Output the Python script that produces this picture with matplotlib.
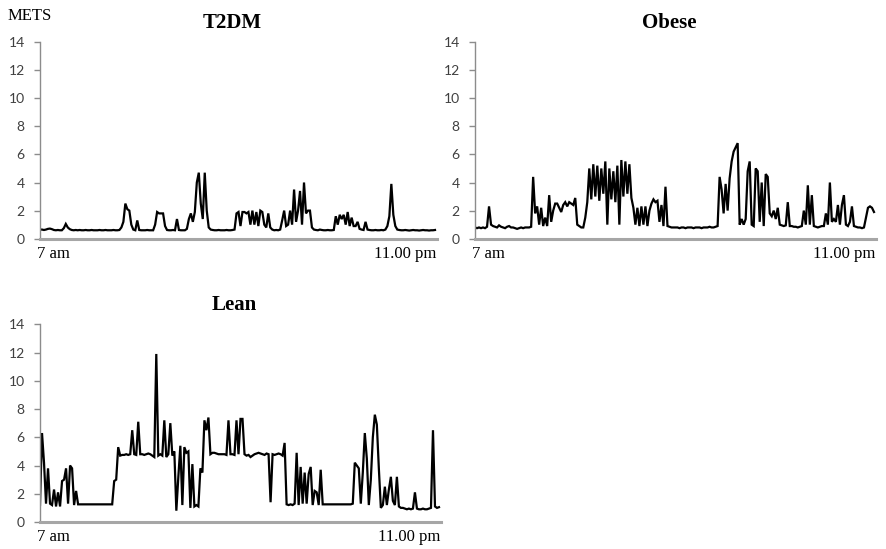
import matplotlib
matplotlib.use("Agg")
import matplotlib.pyplot as plt
import numpy as np

# METs sampled every ~5 min from 7 am to 11 pm (200 samples)
t2dm_mets = [
    0.65, 0.65, 0.62, 0.65, 0.7, 0.72, 0.68, 0.62, 0.6, 0.62, 0.6, 0.6, 0.75, 1.05, 0.8, 0.68, 0.62, 0.6, 0.62, 0.6,
    0.62, 0.6, 0.6, 0.62, 0.6, 0.6, 0.62, 0.6, 0.6, 0.6, 0.62, 0.6, 0.6, 0.62, 0.6, 0.6, 0.6, 0.62, 0.6, 0.6,
    0.62, 0.8, 1.2, 2.5, 2.1, 2.0, 1.0, 0.65, 0.6, 1.3, 0.62, 0.6, 0.6, 0.6, 0.62, 0.6, 0.6, 0.6, 1.0, 1.9,
    1.8, 1.8, 1.8, 0.9, 0.62, 0.6, 0.6, 0.62, 0.6, 1.4, 0.62, 0.6, 0.6, 0.6, 0.7, 1.4, 1.8, 1.2, 1.9, 4.0,
    4.7, 2.5, 1.4, 4.7, 2.0, 0.8, 0.65, 0.62, 0.6, 0.6, 0.62, 0.6, 0.6, 0.6, 0.62, 0.6, 0.6, 0.62, 0.65, 1.8,
    1.9, 0.9, 1.9, 1.9, 1.8, 1.9, 1.0, 2.0, 1.0, 1.9, 0.9, 2.0, 1.9, 1.0, 0.8, 1.8, 0.8, 0.65, 0.6, 0.62,
    0.6, 0.65, 1.3, 2.0, 0.9, 1.0, 2.0, 1.0, 3.5, 1.2, 2.0, 3.4, 1.0, 4.0, 1.8, 2.0, 2.0, 0.8, 0.65, 0.62,
    0.6, 0.65, 0.62, 0.6, 0.6, 0.62, 0.6, 0.6, 0.62, 1.6, 1.0, 1.7, 1.4, 1.7, 1.0, 1.9, 0.9, 1.5, 0.9, 0.9,
    1.2, 0.7, 0.65, 0.62, 1.2, 0.65, 0.62, 0.6, 0.6, 0.62, 0.6, 0.6, 0.62, 0.6, 0.65, 0.9, 1.6, 3.9, 1.7, 0.9,
    0.65, 0.62, 0.6, 0.6, 0.62, 0.6, 0.58, 0.6, 0.62, 0.6, 0.6, 0.58, 0.6, 0.62, 0.6, 0.6, 0.58, 0.6, 0.6, 0.62,
]

obese_mets = [
    0.8, 0.75, 0.8, 0.75, 0.8, 0.75, 0.85, 2.3, 1.0, 0.9, 0.85, 0.8, 0.95, 0.85, 0.8, 0.75, 0.85, 0.9, 0.8, 0.8,
    0.75, 0.7, 0.75, 0.8, 0.75, 0.8, 0.8, 0.8, 0.85, 4.4, 1.8, 2.3, 1.0, 2.2, 0.9, 1.5, 0.9, 3.1, 1.2, 2.0,
    2.5, 2.5, 2.2, 1.9, 2.4, 2.6, 2.3, 2.6, 2.5, 2.4, 2.9, 1.0, 0.9, 0.8, 0.8, 1.5, 2.6, 5.0, 2.8, 5.3,
    3.0, 5.2, 2.7, 5.0, 3.2, 5.5, 1.0, 5.0, 2.8, 4.8, 2.6, 5.2, 1.0, 5.6, 3.0, 5.5, 3.2, 5.3, 2.9, 2.2,
    1.0, 2.2, 0.9, 2.3, 1.0, 2.3, 0.9, 2.0, 2.5, 2.8, 2.6, 2.7, 1.2, 2.4, 0.9, 3.7, 0.9, 0.85, 0.8, 0.8,
    0.8, 0.8, 0.75, 0.8, 0.8, 0.75, 0.8, 0.8, 0.8, 0.75, 0.8, 0.8, 0.8, 0.75, 0.8, 0.8, 0.8, 0.85, 0.8, 0.8,
    0.85, 0.9, 4.4, 3.5, 1.8, 3.9, 2.0, 4.3, 5.5, 6.2, 6.5, 6.8, 1.0, 1.4, 1.0, 1.4, 4.8, 5.5, 1.0, 0.9,
    5.0, 4.8, 1.2, 4.0, 0.9, 4.6, 4.4, 1.8, 1.6, 2.0, 1.4, 2.2, 1.0, 0.95, 0.9, 0.95, 2.6, 0.9, 0.9, 0.85,
    0.85, 0.8, 0.85, 0.9, 2.0, 1.0, 3.8, 1.0, 3.1, 0.9, 0.85, 0.8, 0.85, 0.9, 0.9, 1.8, 1.0, 4.0, 1.2, 1.4,
    1.2, 2.4, 1.0, 2.4, 3.1, 1.0, 0.9, 1.2, 2.3, 0.9, 0.85, 0.8, 0.8, 0.75, 0.8, 1.5, 2.2, 2.3, 2.2, 1.9,
]

lean_mets = [
    1.2, 6.3, 4.2, 1.3, 3.8, 1.3, 1.2, 2.3, 1.1, 2.1, 1.1, 2.9, 3.0, 3.8, 1.3, 4.0, 3.8, 1.2, 2.2, 1.25,
    1.25, 1.25, 1.25, 1.25, 1.25, 1.25, 1.25, 1.25, 1.25, 1.25, 1.25, 1.25, 1.25, 1.25, 1.25, 1.25, 1.25, 2.9, 3.0, 5.3,
    4.7, 4.75, 4.75, 4.8, 4.75, 4.8, 6.5, 4.8, 4.75, 7.1, 4.8, 4.8, 4.75, 4.8, 4.85, 4.8, 4.7, 4.6, 11.9, 4.7,
    4.8, 4.7, 7.2, 4.6, 4.8, 7.0, 4.7, 5.0, 0.8, 3.2, 5.4, 1.2, 5.3, 4.9, 5.0, 1.0, 4.1, 1.1, 1.2, 1.1,
    3.8, 3.5, 7.2, 6.5, 7.4, 4.8, 4.9, 4.9, 4.85, 4.8, 4.8, 4.8, 4.8, 4.75, 7.2, 4.8, 4.8, 4.75, 7.2, 4.8,
    7.3, 7.3, 4.8, 4.7, 4.75, 4.6, 4.7, 4.8, 4.85, 4.9, 4.85, 4.8, 4.75, 4.85, 4.8, 1.4, 4.8, 4.75, 4.8, 4.85,
    4.8, 4.7, 5.6, 1.25, 1.2, 1.25, 1.2, 1.3, 4.9, 1.2, 3.9, 1.3, 3.5, 1.3, 3.4, 3.9, 1.2, 2.2, 2.1, 1.2,
    3.7, 1.25, 1.25, 1.25, 1.25, 1.25, 1.25, 1.25, 1.25, 1.25, 1.25, 1.25, 1.25, 1.25, 1.25, 1.25, 1.3, 4.2, 4.0, 3.8,
    1.3, 3.5, 6.3, 4.5, 1.2, 3.0, 6.0, 7.6, 6.9, 3.8, 1.0, 1.2, 2.5, 1.2, 2.3, 3.2, 1.5, 1.2, 3.2, 1.1,
    1.0, 1.0, 0.95, 0.9, 0.95, 0.9, 0.95, 2.1, 0.95, 0.9, 0.9, 0.95, 0.9, 0.9, 0.95, 1.0, 6.5, 1.1, 1.0, 1.05,
]

panel_titles = ["T2DM", "Obese", "Lean"]
time_labels = ["7 am", "11.00 pm"]
y_ticks = [0, 2, 4, 6, 8, 10, 12, 14]

W, H = 886, 549
fig = plt.figure(figsize=(W / 100, H / 100), dpi=100)

# axes boxes in pixels: left, top (y=14), right, bottom (y=0)
boxes = [(40, 42, 437, 238.7), (475, 42, 876, 238.7), (40, 324.3, 441, 522)]
series = [t2dm_mets, obese_mets, lean_mets]

serif = "Liberation Serif"

for (l, t, r, b), vals, title in zip(boxes, series, panel_titles):
    ax = fig.add_axes([l / W, 1 - b / H, (r - l) / W, (b - t) / H])
    x = np.arange(len(vals))
    ax.plot(x, vals, color="black", lw=1.6, solid_joinstyle="miter")
    ax.set_xlim(0, len(vals))
    ax.set_ylim(0, 14)
    ax.set_yticks(y_ticks)
    ax.set_xticks([])
    for s in ["top", "right"]:
        ax.spines[s].set_visible(False)
    ax.spines["left"].set_color("#8c8c8c")
    ax.spines["left"].set_linewidth(1.0)
    ax.spines["bottom"].set_color("#a6a6a6")
    ax.spines["bottom"].set_linewidth(2.2)
    ax.tick_params(axis="y", length=4, width=1.0, color="#8c8c8c", pad=7,
                   labelsize=10, labelcolor="#404040")
    for lab in ax.get_yticklabels():
        lab.set_fontfamily("Lato")
    ax.text(0.484, 1 + 14 / (b - t), title, transform=ax.transAxes,
            ha="center", va="baseline", fontsize=15, fontweight="bold", family=serif)
    ax.text(-0.008, -0.078, time_labels[0], transform=ax.transAxes,
            ha="left", va="center", fontsize=12, family=serif)
    ax.text(0.998, -0.078, time_labels[1], transform=ax.transAxes,
            ha="right", va="center", fontsize=12, family=serif)

fig.text(8 / W, 1 - 20 / H, "METS", ha="left", va="baseline", fontsize=12, family=serif)

fig.savefig("out.png", dpi=100)
